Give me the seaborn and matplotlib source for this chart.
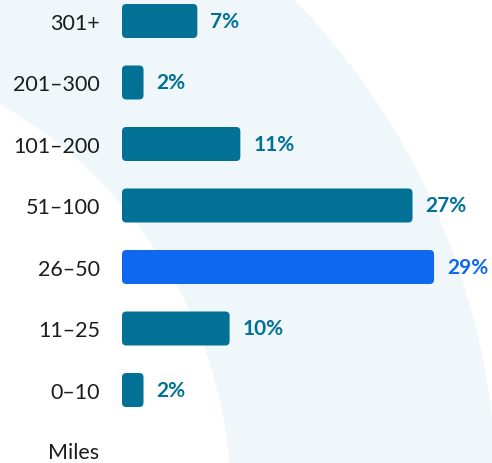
import matplotlib
matplotlib.use("Agg")
import matplotlib.pyplot as plt
import seaborn as sns
import pandas as pd
from matplotlib.patches import FancyBboxPatch, Wedge

# Distance bands (miles) and share of respondents in each
categories = ["301+", "201–300", "101–200", "51–100", "26–50", "11–25", "0–10"]
shares = [7, 2, 11, 27, 29, 10, 2]
highlight = "26–50"

teal = "#037096"
blue = "#0f69f0"
ring = "#f0f7fa"
label_color = "#1c1c1c"

sns.set_theme(style="white")
plt.rcParams["font.family"] = ["Lato", "DejaVu Sans"]

W, H = 492, 464
fig = plt.figure(figsize=(W / 100, H / 100), dpi=100)
fig.patch.set_facecolor("white")

# decorative ring in the background (pixel coordinates)
bg = fig.add_axes([0, 0, 1, 1])
bg.set_xlim(0, W)
bg.set_ylim(H, 0)
bg.axis("off")
bg.add_patch(Wedge((-225, 502), 722, 0, 360, width=266,
                   facecolor=ring, edgecolor="none"))

left_px = 122
px_per_pct = 10.76
row_px = 61.5
first_row_px = 22

ax = fig.add_axes([left_px / W, 0, 1 - left_px / W, 1])
ax.patch.set_alpha(0)

df = pd.DataFrame({"range": categories, "share": shares})
df["group"] = ["hl" if c == highlight else "base" for c in categories]

sns.barplot(data=df, x="share", y="range", hue="group", order=categories,
            palette={"base": teal, "hl": blue}, orient="h", width=0.553,
            saturation=1, dodge=False, legend=False, ax=ax)

ax.set_xlim(0, (W - left_px) / px_per_pct)
ax.set_ylim((H - first_row_px) / row_px, -first_row_px / row_px)

# swap the square bars for rounded ones
r_x = 0.4
r_y = 4.3 / row_px
for p in list(ax.patches):
    x, y = p.get_x(), p.get_y()
    w, h = p.get_width(), p.get_height()
    fc = p.get_facecolor()
    p.remove()
    ax.add_patch(FancyBboxPatch((x, y), w, h,
                                boxstyle=f"round,pad=0,rounding_size={r_x}",
                                mutation_aspect=r_y / r_x,
                                facecolor=fc, edgecolor="none"))

for i, (cat, v) in enumerate(zip(categories, shares)):
    ax.text(v + 13 / px_per_pct, i, f"{v}%", ha="left", va="center",
            fontsize=15, fontweight="bold",
            color=blue if cat == highlight else teal)

ax.set_xlabel("")
ax.set_ylabel("")
ax.set_xticks([])
ax.tick_params(axis="y", length=0, pad=22 * 0.72, labelsize=15.5,
               labelcolor=label_color)
for s in ax.spines.values():
    s.set_visible(False)

fig.text(48 / W, 1 - 453 / H, "Miles", ha="left", va="center",
         fontsize=15.5, color=label_color)

fig.savefig("out.png", dpi=100, facecolor="white")
